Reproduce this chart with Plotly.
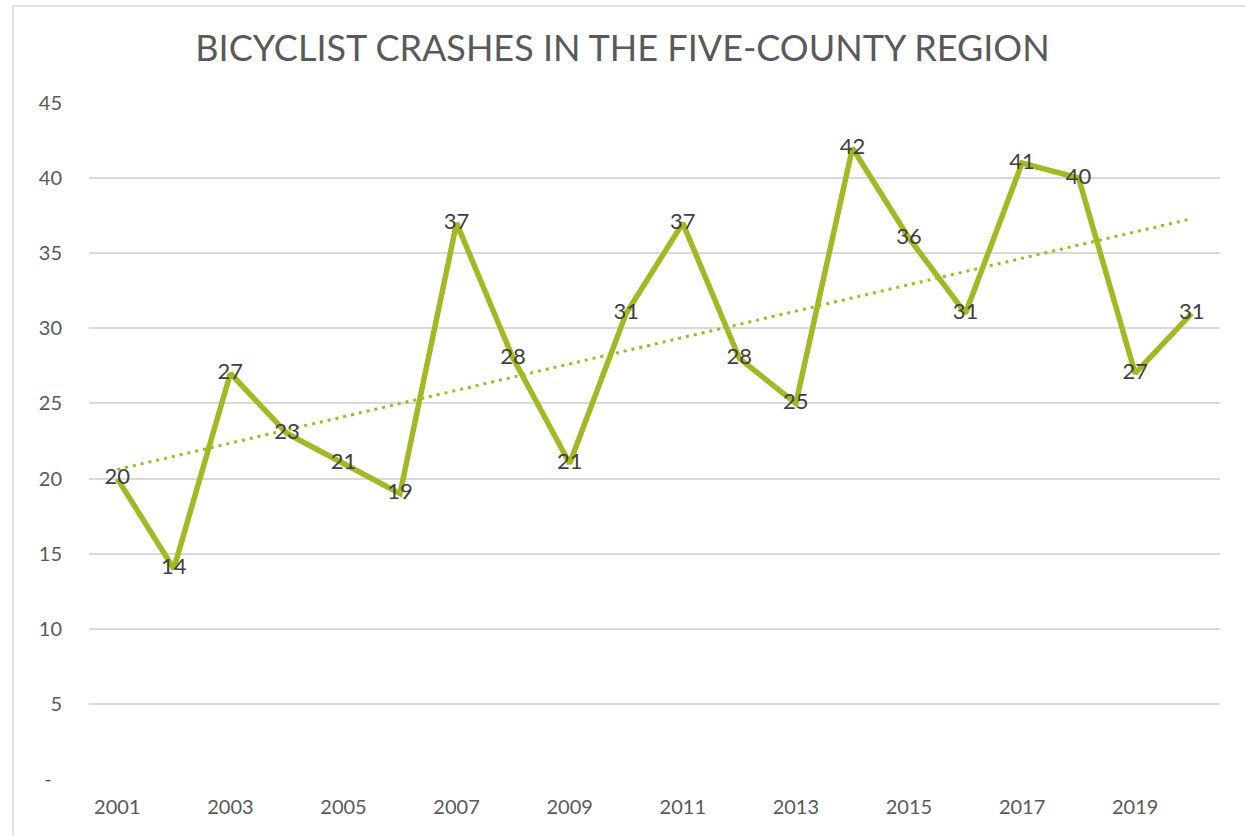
import numpy as np
import plotly.graph_objects as go

years = list(range(2001, 2021))
crashes = [20, 14, 27, 23, 21, 19, 37, 28, 21, 31, 37, 28, 25, 42, 36, 31, 41, 40, 27, 31]
y_ticks = [0, 5, 10, 15, 20, 25, 30, 35, 40, 45]
y_tick_labels = ["-\u00a0\u00a0", "5", "10", "15", "20", "25", "30", "35", "40", "45"]
x_tick_labels = [str(y) for y in years[::2]]
title = "BICYCLIST CRASHES IN THE FIVE-COUNTY REGION"

idx = np.arange(len(years))
slope, intercept = np.polyfit(idx, crashes, 1)
trend = intercept + slope * idx
cats = [str(y) for y in years]

GREEN = "#A4B824"
FONT = "Lato, 'Open Sans', sans-serif"

fig = go.Figure()
fig.add_trace(go.Scatter(
    x=cats, y=trend, mode="lines",
    line=dict(color=GREEN, width=3, dash="3px,5px"), hoverinfo="skip", showlegend=False))
fig.add_trace(go.Scatter(
    x=cats, y=crashes, mode="lines+text",
    line=dict(color=GREEN, width=5.5), text=[str(c) for c in crashes],
    textposition="middle center", textfont=dict(size=22, color="#404040", family=FONT),
    showlegend=False))

L, R, T, B = 89, 25, 103, 57
W, H = 1245, 836
pw, ph = W - L - R, H - T - B

fig.update_layout(
    width=W, height=H,
    margin=dict(l=L, r=R, t=T, b=B),
    paper_bgcolor="white", plot_bgcolor="white",
    title=dict(text=title, x=0.5, xanchor="center", y=1 - 48 / H, yanchor="middle",
               font=dict(size=36, color="#595959", family=FONT)),
    xaxis=dict(type="category", range=[-0.5, len(years) - 0.5], tickmode="array",
               tickvals=x_tick_labels, ticktext=x_tick_labels,
               showgrid=False, showline=False, ticks="", tickfont=dict(size=20, color="#595959", family=FONT),
               ticklabelstandoff=14),
    yaxis=dict(range=[0, 45], tickmode="array", tickvals=y_ticks, ticktext=y_tick_labels,
               showgrid=True, gridcolor="#D9D9D9", gridwidth=1.5, zeroline=False, showline=False,
               ticks="", tickfont=dict(size=20, color="#595959", family=FONT), ticklabelstandoff=26),
    shapes=[dict(type="rect", xref="paper", yref="paper",
                 x0=(13 - L) / pw, x1=(1260 - L) / pw,
                 y0=(H - B - 850) / ph, y1=(H - B - 6) / ph,
                 line=dict(color="#D9D9D9", width=1.5), fillcolor="rgba(0,0,0,0)", layer="below")],
)

fig.write_html("out.html", config={"displayModeBar": False},
               post_script="document.body.style.margin='0px';")
